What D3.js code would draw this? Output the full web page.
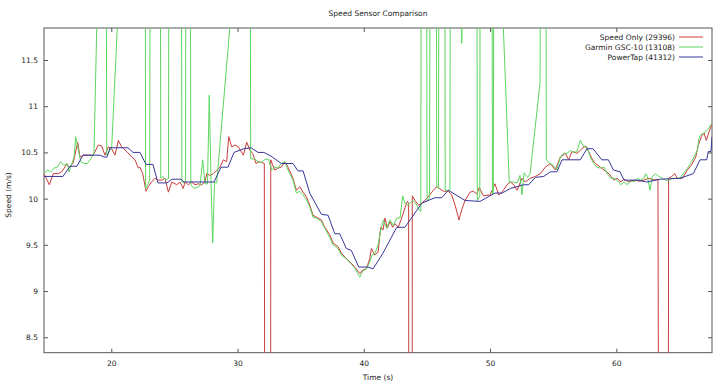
<!DOCTYPE html>
<html lang="en">
<head>
<meta charset="UTF-8">
<title>Speed Sensor Comparison</title>
<script src="https://d3js.org/d3.v7.min.js"></script>
<style>
    body { margin: 0; background: #fff; }
    svg text { font-family: "DejaVu Sans", sans-serif; fill: #222; font-size: 7.5px; }
    .frame { fill: none; stroke: #555; stroke-width: 1px; }
    .tick line { stroke: #555; }
    .tick text { font-size: 7.5px; }
    .series { fill: none; stroke-width: 1px; stroke-linejoin: round; }
</style>
</head>
<body>
<svg width="720" height="384"></svg>
<script>
// [time (s), speed (m/s)]; 0 = dropout, 16 = off the top
var speedOnly = [
    [14.67,10.27],[15.09,10.15],[15.41,10.27],[15.80,10.27],[16.07,10.29],[16.47,10.37],[16.73,10.34],
    [16.99,10.39],[17.34,10.61],[17.52,10.45],[17.78,10.47],[18.18,10.47],[18.57,10.47],[18.97,10.58],
    [19.24,10.57],[19.50,10.47],[19.76,10.56],[20.03,10.54],[20.29,10.47],[20.56,10.63],[20.82,10.56],
    [21.22,10.51],[21.62,10.45],[21.88,10.42],[22.14,10.33],[22.27,10.34],[22.49,10.27],[22.75,10.08],
    [22.93,10.13],[23.20,10.18],[23.46,10.22],[23.72,10.20],[23.99,10.20],[24.25,10.22],[24.52,10.07],
    [24.79,10.18],[25.18,10.15],[25.44,10.18],[25.70,10.11],[25.84,10.18],[26.10,10.15],[26.37,10.18],
    [26.63,10.15],[26.89,10.16],[27.16,10.15],[27.42,10.18],[27.56,10.27],[27.82,10.25],[28.08,10.27],
    [28.61,10.34],[28.87,10.42],[29.14,10.40],[29.30,10.67],[29.54,10.56],[29.80,10.58],[30.06,10.56],
    [30.46,10.47],[30.73,10.61],[30.99,10.52],[31.20,10.49],[31.46,10.38],[31.72,10.40],[32.12,10.38],
    [32.23,0],[32.60,0],[32.63,10.42],[32.94,10.31],[33.20,10.33],[33.47,10.34],[33.74,10.40],
    [34.00,10.34],[34.39,10.22],[34.66,10.09],[34.92,10.13],[35.19,10.07],[35.45,10.02],[35.72,9.93],
    [35.98,9.82],[36.24,9.80],[36.64,9.77],[36.91,9.69],[37.30,9.61],[37.56,9.52],[37.96,9.48],
    [38.22,9.41],[38.62,9.35],[39.01,9.30],[39.28,9.26],[39.68,9.19],[39.94,9.23],[40.20,9.24],
    [40.47,9.35],[40.60,9.46],[40.86,9.39],[41.13,9.42],[41.34,9.69],[41.52,9.66],[41.68,9.79],
    [41.86,9.68],[42.08,9.75],[42.29,9.69],[42.47,9.73],[42.73,9.69],[43.00,9.79],[43.26,9.90],
    [43.45,9.97],[43.55,9.95],[43.60,0],[43.82,0],[43.84,10.03],[44.06,9.98],[44.32,9.93],[44.59,9.95],
    [44.98,10.00],[45.51,10.09],[45.78,10.13],[46.30,10.08],[46.70,10.08],[46.96,10.04],[47.23,9.93],
    [47.54,9.77],[47.76,9.88],[48.02,9.98],[48.42,10.07],[48.68,10.08],[48.95,10.05],[49.15,10.12],
    [49.47,10.03],[50.00,10.04],[50.39,10.16],[50.69,10.04],[50.95,10.07],[51.35,10.15],[51.61,10.18],
    [51.88,10.15],[52.14,10.09],[52.53,10.22],[52.79,10.18],[53.19,10.22],[53.59,10.24],[53.98,10.27],
    [54.38,10.34],[54.77,10.38],[55.17,10.31],[55.57,10.45],[55.96,10.49],[56.23,10.42],[56.49,10.51],
    [56.89,10.49],[57.28,10.54],[57.55,10.57],[57.81,10.51],[58.08,10.43],[58.34,10.38],[58.73,10.34],
    [59.03,10.31],[59.42,10.27],[59.82,10.20],[60.08,10.22],[60.35,10.18],[60.61,10.21],[61.01,10.18],
    [61.40,10.20],[61.80,10.19],[62.19,10.20],[62.59,10.22],[62.99,10.20],[63.30,10.21],[63.46,0],
    [64.09,0],[64.14,10.22],[64.39,10.24],[64.63,10.27],[64.83,10.22],[65.23,10.22],[65.63,10.31],
    [65.94,10.36],[66.29,10.45],[66.50,10.58],[66.74,10.67],[66.95,10.71],[67.13,10.63],[67.34,10.72],
    [67.58,10.81]
];

var garmin = [
    [14.67,10.27],[14.93,10.31],[15.20,10.29],[15.46,10.33],[15.72,10.34],[15.99,10.40],[16.25,10.36],
    [16.52,10.38],[16.65,10.29],[16.78,10.34],[17.05,10.45],[17.18,10.67],[17.31,10.58],[17.58,10.40],
    [17.84,10.38],[18.10,10.38],[18.37,10.43],[18.63,10.49],[18.95,12.50],[19.54,16],[19.64,10.47],
    [19.90,10.52],[20.03,10.55],[20.69,12.47],[22.65,16],[22.72,10.11],[22.86,10.14],[23.04,10.20],
    [23.12,16],[23.85,16],[23.92,10.22],[24.09,10.24],[24.33,10.20],[24.53,10.22],[24.59,16],
    [25.52,16],[25.59,10.18],[25.75,10.17],[25.88,10.19],[25.94,16],[26.23,16],[26.30,10.15],
    [26.55,10.11],[26.79,10.12],[27.03,10.14],[27.24,10.42],[27.42,10.16],[27.62,10.16],[27.76,11.12],
    [27.90,10.18],[28.03,9.52],[28.18,10.18],[28.35,10.17],[29.48,12.00],[30.96,16],[31.04,10.43],
    [31.35,10.43],[31.62,10.40],[31.88,10.39],[32.14,10.42],[32.44,10.43],[32.70,10.31],[32.94,10.34],
    [33.20,10.33],[33.47,10.38],[33.74,10.40],[34.00,10.31],[34.39,10.20],[34.66,10.06],[34.92,10.08],
    [35.19,10.04],[35.45,9.99],[35.72,9.91],[35.98,9.80],[36.24,9.79],[36.64,9.75],[36.91,9.68],
    [37.30,9.58],[37.56,9.50],[37.96,9.46],[38.22,9.39],[38.62,9.35],[39.01,9.29],[39.28,9.25],
    [39.68,9.15],[39.94,9.22],[40.20,9.24],[40.47,9.31],[40.65,9.39],[40.89,9.41],[41.13,9.50],
    [41.34,9.66],[41.55,9.77],[41.81,9.68],[42.08,9.77],[42.34,9.71],[42.61,9.79],[42.87,9.79],
    [43.08,10.03],[43.26,9.95],[43.48,9.93],[43.66,9.95],[43.90,9.98],[44.19,9.93],[44.37,9.88],
    [44.51,9.86],[44.59,16],[44.95,16],[45.01,9.97],[45.21,10.01],[45.29,16],[45.72,16],[45.78,10.13],
    [45.92,10.11],[45.98,16],[46.39,16],[46.45,10.09],[46.67,10.09],[46.82,10.09],[46.89,16],
    [47.70,16],[47.76,11.68],[47.81,16],[48.93,16],[48.99,9.98],[49.19,10.03],[49.24,16],[50.12,16],
    [50.19,10.04],[50.26,10.07],[50.33,16],[50.84,12.62],[51.52,10.18],[51.81,10.18],[52.14,10.17],
    [52.37,10.25],[52.53,10.04],[52.69,10.28],[52.98,10.23],[53.17,10.27],[53.96,11.25],[54.08,16],
    [54.38,16],[54.46,10.42],[54.75,10.38],[55.01,10.36],[55.28,10.31],[55.57,10.45],[55.84,10.49],
    [56.10,10.49],[56.36,10.52],[56.63,10.50],[56.89,10.51],[57.15,10.63],[57.42,10.56],[57.68,10.56],
    [57.94,10.45],[58.21,10.38],[58.47,10.34],[58.73,10.33],[59.03,10.34],[59.29,10.27],[59.56,10.22],
    [59.82,10.22],[60.08,10.20],[60.35,10.15],[60.61,10.18],[60.87,10.15],[61.14,10.20],[61.40,10.18],
    [61.66,10.22],[61.93,10.20],[62.19,10.22],[62.33,10.27],[62.46,10.24],[62.67,10.09],[62.85,10.24],
    [63.12,10.27],[63.38,10.24],[63.64,10.22],[63.91,10.20],[64.17,10.20],[64.43,10.22],[64.70,10.22],
    [65.04,10.22],[65.36,10.28],[65.63,10.33],[65.89,10.38],[66.15,10.45],[66.42,10.52],[66.55,10.65],
    [66.69,10.69],[66.95,10.71],[67.21,10.74],[67.48,10.80],[67.58,10.81]
];

var powerTap = [
    [14.67,10.24],[16.17,10.24],[16.73,10.35],[17.28,10.35],[17.76,10.47],[19.11,10.47],[19.42,10.45],
    [19.66,10.45],[19.90,10.55],[21.32,10.55],[21.72,10.50],[22.27,10.50],[22.75,10.37],[23.30,10.37],
    [23.70,10.17],[24.41,10.17],[24.81,10.21],[25.52,10.21],[25.76,10.18],[28.14,10.18],[28.69,10.34],
    [29.24,10.34],[29.72,10.50],[30.51,10.54],[31.07,10.55],[31.62,10.50],[32.09,10.50],[32.65,10.46],
    [33.47,10.38],[34.39,10.38],[34.79,10.30],[35.19,10.30],[35.72,10.06],[36.64,9.83],[37.17,9.82],
    [37.70,9.62],[38.09,9.62],[38.62,9.46],[39.01,9.44],[39.60,9.26],[40.33,9.26],[40.73,9.24],
    [41.52,9.41],[42.61,9.69],[43.26,9.69],[44.59,9.95],[45.11,9.98],[45.64,10.01],[46.17,10.01],
    [46.70,10.09],[48.02,9.98],[49.21,9.97],[49.86,10.02],[50.39,10.06],[50.95,10.06],[51.61,10.11],
    [52.14,10.13],[52.67,10.15],[53.06,10.15],[53.59,10.23],[54.25,10.24],[54.77,10.29],[55.30,10.29],
    [55.70,10.42],[57.15,10.42],[57.68,10.54],[58.16,10.54],[58.85,10.42],[59.37,10.42],[59.77,10.31],
    [60.30,10.29],[60.61,10.20],[61.64,10.20],[62.41,10.18],[63.46,10.21],[65.04,10.22],[66.10,10.27],
    [66.63,10.42],[67.16,10.42],[67.29,10.51],[67.50,10.51],[67.58,10.67]
];

var xTicks = [20, 30, 40, 50, 60];
var yTicks = [8.5, 9, 9.5, 10, 10.5, 11, 11.5];
var seriesNames = ["Speed Only (29396)", "Garmin GSC-10 (13108)", "PowerTap (41312)"];
var seriesColors = ["#c93d3d", "#5cd65c", "#36369c"];

var plotLeft = 44, plotRight = 712, plotTop = 28, plotBottom = 352.7;

var svg = d3.select("svg");

var x = d3.scaleLinear().domain([14.67, 67.58]).range([plotLeft, plotRight]);
var y = d3.scaleLinear().domain([8.333, 11.846]).range([plotBottom, plotTop]);

svg.append("defs").append("clipPath").attr("id", "plotClip")
    .append("rect")
    .attr("x", plotLeft).attr("y", plotTop)
    .attr("width", plotRight - plotLeft).attr("height", plotBottom - plotTop);

// axes: ticks point inwards, mirrored on top and right
svg.append("g")
    .attr("transform", "translate(0," + plotBottom + ")")
    .call(d3.axisBottom(x).tickValues(xTicks).tickSize(-4).tickPadding(8).tickFormat(d3.format("d")))
    .call(g => g.select(".domain").remove());

svg.append("g")
    .attr("transform", "translate(0," + plotTop + ")")
    .call(d3.axisTop(x).tickValues(xTicks).tickSize(-4).tickFormat(""))
    .call(g => g.select(".domain").remove());

svg.append("g")
    .attr("transform", "translate(" + plotLeft + ",0)")
    .call(d3.axisLeft(y).tickValues(yTicks).tickSize(-4).tickPadding(6).tickFormat(d3.format("")))
    .call(g => g.select(".domain").remove());

svg.append("g")
    .attr("transform", "translate(" + plotRight + ",0)")
    .call(d3.axisRight(y).tickValues(yTicks).tickSize(-4).tickFormat(""))
    .call(g => g.select(".domain").remove());

svg.selectAll(".tick text").attr("font-family", null).attr("font-size", null);

svg.append("rect")
    .attr("class", "frame")
    .attr("x", plotLeft).attr("y", plotTop)
    .attr("width", plotRight - plotLeft).attr("height", plotBottom - plotTop);

var line = d3.line()
    .x(d => x(d[0]))
    .y(d => y(d[1]));

var plot = svg.append("g").attr("clip-path", "url(#plotClip)");

[speedOnly, garmin, powerTap].forEach(function (data, i) {
    plot.append("path")
        .datum(data)
        .attr("class", "series")
        .attr("stroke", seriesColors[i])
        .attr("d", line);
});

// legend, top right
var legend = svg.append("g");
seriesNames.forEach(function (name, i) {
    var ly = 37 + i * 10;
    legend.append("text")
        .attr("x", 675).attr("y", ly)
        .attr("dy", "0.35em")
        .attr("text-anchor", "end")
        .text(name);
    legend.append("line")
        .attr("x1", 679).attr("x2", 703)
        .attr("y1", ly).attr("y2", ly)
        .attr("stroke", seriesColors[i])
        .attr("stroke-width", 1);
});

svg.append("text")
    .attr("x", 378).attr("y", 13)
    .attr("dy", "0.35em")
    .attr("text-anchor", "middle")
    .text("Speed Sensor Comparison");

svg.append("text")
    .attr("x", 378).attr("y", 377)
    .attr("dy", "0.35em")
    .attr("text-anchor", "middle")
    .text("Time (s)");

svg.append("text")
    .attr("transform", "translate(8,195) rotate(-90)")
    .attr("dy", "0.35em")
    .attr("text-anchor", "middle")
    .text("Speed (m/s)");
</script>
</body>
</html>
